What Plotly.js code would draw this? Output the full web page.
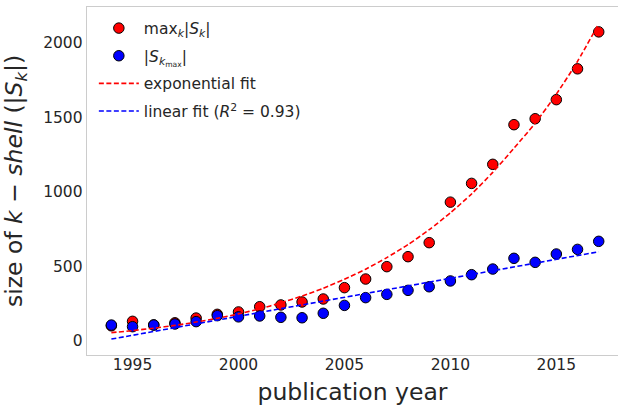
<!DOCTYPE html>
<html>
<head>
<meta charset="utf-8">
<script src="https://cdn.plot.ly/plotly-3.0.1.min.js"></script>
<style>html,body{margin:0;padding:0;background:#fff;}#chart{width:618px;height:406px;}</style>
</head>
<body>
<div id="chart"></div>
<script>
// Data
const years = [1994,1995,1996,1997,1998,1999,2000,2001,2002,2003,2004,2005,2006,2007,2008,2009,2010,2011,2012,2013,2014,2015,2016,2017];
const maxShell = [100,130,106,120,152,177,193,228,240,260,280,356,414,497,564,658,930,1056,1184,1450,1490,1618,1825,2073];
const kmaxShell = [105,94,105,112,128,168,160,166,157,154,184,237,289,311,338,362,401,443,481,553,526,582,613,667];
const expFit = [54,68,84,103,125,150,180,214,254,300,352,412,480,558,645,745,858,985,1130,1292,1460,1655,1875,2128];
const linYears = [1994,2017];
const linFit = [11,597];
const xTickVals = [1995,2000,2005,2010,2015];
const yTickVals = [0,500,1000,1500,2000];
const labels = ["max<sub><i>k</i></sub>|<i>S</i><sub><i>k</i></sub>|",
                "|<i>S</i><sub><i>k</i><sub>max</sub></sub>|",
                "exponential fit",
                "linear fit (<i>R</i><sup>2</sup> = 0.93)"];

const font = "DejaVu Sans, sans-serif";
const textCol = "#262626";
const traces = [
  {x: years, y: maxShell, type: "scatter", mode: "markers", name: labels[0], legendgroup: "a",
   marker: {color: "#ff0000", size: 10.5, line: {color: "#000000", width: 1}}},
  {x: years, y: kmaxShell, type: "scatter", mode: "markers", name: labels[1], legendgroup: "b",
   marker: {color: "#0000ff", size: 10.5, line: {color: "#000000", width: 1}}},
  {x: years, y: expFit, type: "scatter", mode: "lines", name: labels[2], legendgroup: "c",
   line: {color: "#ff0000", width: 1.6, dash: "5px,2.5px", shape: "spline", smoothing: 0.6}},
  {x: linYears, y: linFit, type: "scatter", mode: "lines", name: labels[3], legendgroup: "d",
   line: {color: "#0000ff", width: 1.6, dash: "5px,2.5px"}}
];
const layout = {
  width: 618, height: 406,
  margin: {l: 87.4, r: 0, t: 7, b: 51, pad: 0},
  paper_bgcolor: "#ffffff", plot_bgcolor: "#ffffff",
  font: {family: font, color: textCol, size: 15.5},
  showlegend: true,
  legend: {x: 0.0129, y: 0.987, xanchor: "left", yanchor: "top", bgcolor: "rgba(255,255,255,0)",
           itemwidth: 40,
           font: {family: font, size: 15.5, color: textCol}, traceorder: "grouped", tracegroupgap: 4.5},
  xaxis: {range: [1992.85, 2017.91], tickvals: xTickVals, showgrid: false, zeroline: false,
          showline: true, linecolor: "#cccccc", linewidth: 1.3, mirror: true, ticks: "",
          ticklabelstandoff: -5, tickfont: {size: 15.5, color: textCol},
          title: {text: "publication year", font: {size: 23.5, color: textCol}, standoff: 18}},
  yaxis: {range: [-96, 2240], tickvals: yTickVals, showgrid: false, zeroline: false,
          showline: true, linecolor: "#cccccc", linewidth: 1.3, mirror: false, ticks: "",
          ticklabelstandoff: 0, tickfont: {size: 15.5, color: textCol},
          title: {text: "size of <i>k</i> − <i>shell</i> (|<i>S</i><sub><i>k</i></sub>|)", font: {size: 23.5, color: textCol}, standoff: 16}}
};
Plotly.newPlot("chart", traces, layout, {displayModeBar: false, staticPlot: true});
</script>
</body>
</html>
